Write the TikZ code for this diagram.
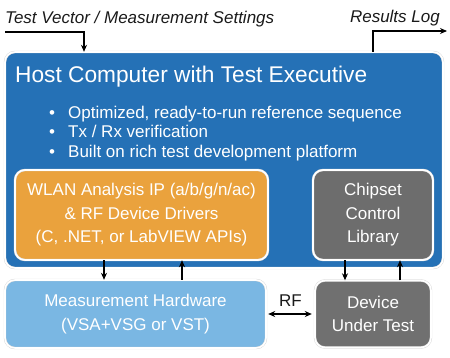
\documentclass[tikz,border=0pt]{standalone}
\usepackage{fontspec}
\setmainfont{Liberation Sans}
\usetikzlibrary{positioning, arrows.meta}
\definecolor{clrhost}{HTML}{2571B6}
\definecolor{clrdriver}{HTML}{EAA23D}
\definecolor{clrchip}{HTML}{6D6D6D}
\definecolor{clrhw}{HTML}{7AB7E3}
\definecolor{clrdut}{HTML}{707070}
\definecolor{clrframe}{HTML}{D4D4D4}
\definecolor{clrtext}{HTML}{1A1A1A}

\begin{document}
\begin{tikzpicture}[
    x=1pt, y=-1pt,
    >=Stealth,
    every node/.style={font=\fontsize{17}{23.5}\selectfont},
    block/.style={draw=clrframe, double=white, double distance=1.6pt, rounded corners=10pt,
                  text=white, align=center, inner sep=0pt},
    arrow/.style={->, color=black, line width=1.3pt, arrows={-Stealth[length=7pt, width=6pt]}},
    biarrow/.style={color=black, line width=1.3pt, arrows={Stealth[length=7pt, width=6pt]-Stealth[length=7pt, width=6pt]}},
    label/.style={text=clrtext, inner sep=0pt},
    bullet/.style={text=white, inner sep=0pt},
]
\useasboundingbox (0,0) rectangle (450,357);
\node[block, fill=clrhost, minimum width=438pt, minimum height=216pt] (n_host) at (224,160) {};
\node[anchor=base west, text=white, inner sep=0pt, font=\fontsize{22.7}{26}\selectfont] (n_title) at (15,82) {Host Computer with Test Executive};
\node[bullet, anchor=base] (n_b1) at (52,118) {•};
\node[bullet, anchor=base west] (n_t1) at (68,118) {Optimized, ready-to-run reference sequence};
\node[bullet, anchor=base] (n_b2) at (52,137) {•};
\node[bullet, anchor=base west] (n_t2) at (68,137) {Tx / Rx verification};
\node[bullet, anchor=base] (n_b3) at (52,157) {•};
\node[bullet, anchor=base west] (n_t3) at (68,157) {Built on rich test development platform};
\node[block, fill=clrdriver, minimum width=253pt, minimum height=90pt] (n_wlan) at (141.5,215) {WLAN Analysis IP (a/b/g/n/ac)\\ \& RF Device Drivers\\ (C, .NET, or LabVIEW APIs)};
\node[block, fill=clrchip, minimum width=120pt, minimum height=90pt] (n_chip) at (373,215) {Chipset\\ Control\\ Library};
\node[block, fill=clrhw, minimum width=261pt, minimum height=68pt] (n_hw) at (135.5,314) {Measurement Hardware\\ (VSA+VSG or VST)};
\node[block, fill=clrdut, minimum width=116pt, minimum height=67pt] (n_dut) at (373,314) {Device\\ Under Test};
\node[label, anchor=base west, font=\itshape\fontsize{17}{20}\selectfont] (n_in) at (5,23) {Test Vector / Measurement Settings};
\node[label, anchor=base east, font=\itshape\fontsize{17}{20}\selectfont] (n_out) at (440,22) {Results Log};
\coordinate (in_start) at (5,32);
\coordinate (in_turn) at (84,32);
\coordinate (out_turn) at (373,31);
\coordinate (out_end) at (447,31);
\draw[arrow] (in_start) -- (in_turn) -- (in_turn |- n_host.north);
\draw[arrow] (out_turn |- n_host.north) -- (out_turn) -- (out_end);
\draw[arrow] ([xshift=-37.5pt]n_wlan.south) -- ([xshift=-31.5pt]n_hw.north);
\draw[arrow] ([xshift=46.5pt]n_hw.north) -- ([xshift=40.5pt]n_wlan.south);
\draw[arrow] ([xshift=-28pt]n_chip.south) -- ([xshift=-28pt]n_dut.north);
\draw[arrow] ([xshift=27pt]n_dut.north) -- ([xshift=27pt]n_chip.south);
\draw[biarrow, shorten <=2pt, shorten >=3pt] (n_hw.east) -- node[label, above=7pt] {RF} (n_dut.west);
\end{tikzpicture}
\end{document}
